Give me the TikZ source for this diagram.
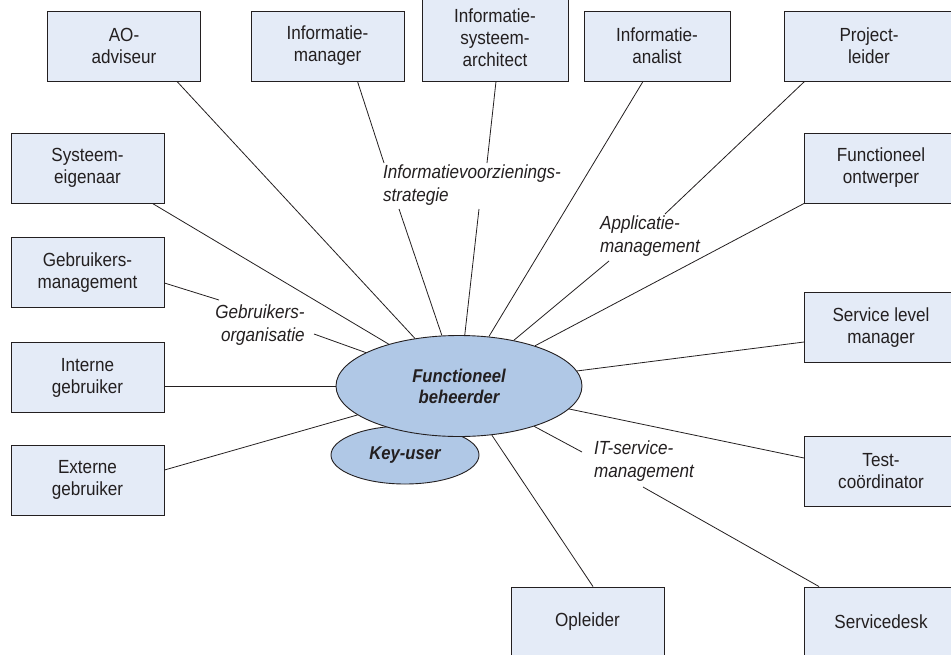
\documentclass[tikz,border=0pt]{standalone}
\usepackage{fontspec}
\setmainfont[FakeStretch=0.9]{Liberation Sans}
\usetikzlibrary{shapes.geometric}
\definecolor{rolfill}{HTML}{E4EBF7}
\definecolor{kernfill}{HTML}{B0C8E6}
\definecolor{inkt}{HTML}{231F20}

\begin{document}
\begin{tikzpicture}[x=1pt,y=-1pt,font=\fontsize{19}{22}\selectfont,
    rol/.style={draw=inkt,fill=rolfill,line width=0.9pt,minimum width=153pt,
      minimum height=70pt,inner sep=0pt,align=center,text=inkt},
    kern/.style={ellipse,draw=inkt,fill=kernfill,line width=0.9pt,inner sep=0pt,
      align=center,text=inkt,font=\fontsize{18.5}{21}\selectfont\bfseries\itshape},
    thema/.style={inner sep=0pt,text=inkt,font=\fontsize{19}{23}\selectfont\itshape},
    lijn/.style={draw=inkt,line width=0.8pt}]
      \useasboundingbox (0,0) rectangle (951,654);
      \clip (0,0) rectangle (951,654);
      \node[rol] (ao) at (124,46) {AO-\\adviseur};
      \node[rol] (imgr) at (327.5,46) {Informatie-\\manager};
      \node[rol,minimum width=146pt,minimum height=86pt] (isa) at (495,38) {Informatie-\\systeem-\\architect};
      \node[rol,minimum width=146pt] (ian) at (657,46) {Informatie-\\analist};
      \node[rol,minimum width=170pt] (pl) at (869,46) {Project-\\leider};
      \node[rol] (se) at (87.5,168) {Systeem-\\eigenaar};
      \node[rol] (gm) at (87.5,272.5) {Gebruikers-\\management};
      \node[rol] (ig) at (87.5,377.5) {Interne\\gebruiker};
      \node[rol] (eg) at (87.5,480) {Externe\\gebruiker};
      \node[rol] (fo) at (881,168) {Functioneel\\ontwerper};
      \node[rol] (slm) at (881,327.5) {Service level\\manager};
      \node[rol] (tc) at (881,471.5) {Test-\\coördinator};
      \node[rol] (sd) at (881,622) {Servicedesk};
      \node[rol] (opl) at (587.5,622) {Opleider};
      \node[kern,minimum width=148pt,minimum height=58pt] (ku) at (405,455) {Key-user};
      \node[kern,minimum width=246pt,minimum height=101pt] (fb) at (459,386) {Functioneel\\beheerder};
      \node[thema,align=left] (ivs) at (472,185) {Informatievoorzienings-\\strategie};
      \node[thema,align=left] (am) at (650,236) {Applicatie-\\management};
      \node[thema,align=right] (go) at (260,325) {Gebruikers-\\organisatie};
      \node[thema,align=left] (its) at (644,461) {IT-service-\\management};
      \coordinate (ivs_1) at (384,163);
      \coordinate (ivs_2) at (399,209);
      \coordinate (ivs_3) at (487,163);
      \coordinate (ivs_4) at (479,209);
      \coordinate (am_1) at (665,214);
      \coordinate (am_2) at (609,261);
      \coordinate (go_1) at (219,300);
      \coordinate (go_2) at (314,334);
      \coordinate (its_1) at (643,487);
      \coordinate (its_2) at (582,452);
      \draw[lijn] ([xshift=53pt]ao.south) -- (fb);
      \draw[lijn] ([xshift=30pt]imgr.south) -- (ivs_1) (ivs_2) -- (fb);
      \draw[lijn] ([xshift=1pt]isa.south) -- (ivs_3) (ivs_4) -- (fb);
      \draw[lijn] ([xshift=-14pt]ian.south) -- (fb);
      \draw[lijn] ([xshift=21pt]pl.south west) -- (am_1) (am_2) -- (fb);
      \draw[lijn] ([xshift=-12pt]se.south east) -- (fb);
      \draw[lijn] ([yshift=-10.5pt]gm.east) -- (go_1) (go_2) -- (fb);
      \draw[lijn] ([yshift=-8.5pt]ig.east) -- (fb);
      \draw[lijn] ([yshift=10pt]eg.east) -- (fb);
      \draw[lijn] (fo.south west) -- (fb);
      \draw[lijn] ([yshift=-14.5pt]slm.west) -- (fb);
      \draw[lijn] ([yshift=13.5pt]tc.west) -- (fb);
      \draw[lijn] ([xshift=5.5pt]opl.north) -- (fb);
      \draw[lijn] ([xshift=15pt]sd.north west) -- (its_1) (its_2) -- (fb);
    \end{tikzpicture}
\end{document}
